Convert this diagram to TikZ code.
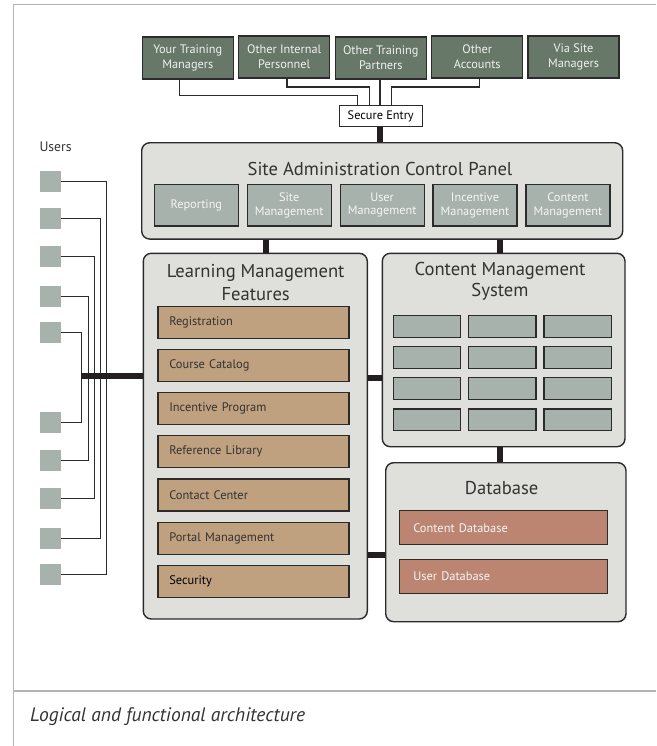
\documentclass[tikz,border=0pt]{standalone}
\usepackage{fontspec}
\setmainfont{PT Sans}
\usetikzlibrary{calc}
\definecolor{bord}{HTML}{2B2B2B}
\definecolor{topg}{HTML}{677868}
\definecolor{panelg}{HTML}{DFDFDB}
\definecolor{subg}{HTML}{A7B2AD}
\definecolor{tanc}{HTML}{BFA07F}
\definecolor{salm}{HTML}{BC8572}
\definecolor{framec}{HTML}{B4B4B4}
\definecolor{textd}{HTML}{333333}
\definecolor{thickc}{HTML}{231F20}
\begin{document}
\begin{tikzpicture}[x=1pt,y=-1pt,
  topbox/.style={draw=bord, line width=1.2pt, fill=topg, text=white!94!black, minimum width=91pt, minimum height=42pt, inner sep=0pt, align=center, font=\fontsize{12.3}{15}\selectfont},
  panelbox/.style={draw=bord, line width=1.4pt, fill=panelg, rounded corners=8pt, inner sep=0pt},
  subbox/.style={draw=bord, line width=1.2pt, fill=subg, text=white!96!black, minimum width=84pt, minimum height=41.7pt, inner sep=0pt, align=center, font=\fontsize{12.3}{13.5}\selectfont},
  itembox/.style={draw=bord, line width=1.2pt, fill=tanc, text=textd, minimum height=32pt, text width=168.4pt, inner xsep=11.3pt, inner ysep=0pt, align=left, font=\fontsize{12.4}{13}\selectfont},
  dbbox/.style={draw=bord, line width=1.2pt, fill=salm, text=white!96!black, minimum height=34pt, text width=180.4pt, inner xsep=14pt, inner ysep=0pt, align=left, font=\fontsize{12.4}{13}\selectfont},
  cellbox/.style={draw=bord, line width=1.2pt, fill=subg, minimum width=67.4pt, minimum height=21.8pt, inner sep=0pt},
  userbox/.style={fill=subg, minimum width=21pt, minimum height=21pt, inner sep=0pt},
  titletext/.style={text=textd, align=center, font=\fontsize{18.6}{23}\selectfont, inner sep=0pt},
  thinline/.style={draw=bord, line width=1.5pt},
  thickline/.style={draw=thickc, line width=6pt},
  frameline/.style={draw=framec, line width=1.5pt}
]
\useasboundingbox (0,0) rectangle (656,746);
% frame
\draw[frameline] (656,4.7) -- (13.3,4.7) -- (13.3,746);
\draw[frameline] (13.3,691) -- (656,691);
\node[anchor=west, inner sep=0pt, text=textd, font=\fontsize{19.5}{22}\selectfont\itshape] (cap) at (30,717) {Logical and functional architecture};

% top boxes
\node[topbox] (b1) at (187.8,58) {Your Training\\Managers};
\node[topbox] (b2) at (284.2,57) {Other Internal\\Personnel};
\node[topbox] (b3) at (380.8,58) {Other Training\\Partners};
\node[topbox] (b4) at (477.2,57) {Other\\Accounts};
\node[topbox] (b5) at (573.5,57) {Via Site\\Managers};
\node[draw=bord, line width=1.2pt, fill=white, text=black, minimum width=83pt, minimum height=21.5pt, inner sep=0pt, font=\fontsize{12.3}{13}\selectfont] (se) at (380.7,116) {Secure Entry};

% panel
\node[panelbox, minimum width=481pt, minimum height=96.3pt] (panel) at (382.2,190.9) {};
\node[titletext] (ptitle) at (380,169) {Site Administration Control Panel};
\node[subbox] (s1) at (196.3,205.2) {Reporting};
\node[subbox] (s2) at (289.2,205.2) {Site\\Management};
\node[subbox] (s3) at (382.1,205.2) {User\\Management};
\node[subbox] (s4) at (475.0,205.2) {Incentive\\Management};
\node[subbox] (s5) at (567.9,205.2) {Content\\Management};

% LMF
\node[panelbox, minimum width=224pt, minimum height=365.7pt] (lmf) at (255.3,436.15) {};
\node[titletext] (ltitle) at (255.7,282.3) {Learning Management\\Features};
\node[itembox] (i1) at (253.5,322.2) {Registration};
\node[itembox] (i2) at (253.5,365.4) {Course Catalog};
\node[itembox] (i3) at (253.5,408.6) {Incentive Program};
\node[itembox] (i4) at (253.5,451.8) {Reference Library};
\node[itembox] (i5) at (253.5,495.0) {Contact Center};
\node[itembox] (i6) at (253.5,538.2) {Portal Management};
\node[itembox, text=black] (i7) at (253.5,581.4) {Security};

% CMS
\node[panelbox, minimum width=242.7pt, minimum height=193.4pt] (cms) at (503.65,350) {};
\node[titletext, font=\fontsize{18.6}{20.5}\selectfont] (ctitle) at (500,281.5) {Content Management\\System};
\foreach \r [count=\ri] in {326.3,357.5,388.7,419.9} {
  \foreach \c [count=\ci] in {427,502.3,577.6} {
    \node[cellbox] (g\ri\ci) at (\c,\r) {};
  }
}

% Database
\node[panelbox, minimum width=240.3pt, minimum height=159pt] (db) at (505.85,542.2) {};
\node[titletext] (dtitle) at (501.7,487.7) {Database};
\node[dbbox] (d1) at (503.5,527.8) {Content Database};
\node[dbbox] (d2) at (503.5,576.3) {User Database};

% users
\node[anchor=west, inner sep=0pt, text=textd, font=\fontsize{13.7}{15}\selectfont] (ulabel) at (39.3,146.7) {Users};
\foreach \y [count=\k] in {181.5,218.5,256.5,296.5,332.5,422.5,460.5,498.5,538.5,574.5} {
  \node[userbox] (u\k) at (50.5,\y) {};
}
\coordinate (bx1) at (106.7,0);
\coordinate (bx2) at (100.7,0);
\coordinate (bx3) at (94.7,0);
\coordinate (bx4) at (88.3,0);
\coordinate (bx5) at (81.7,0);
\draw[thinline] (u1.east) -- (u1.east -| bx1) -- (u10.east -| bx1) -- (u10.east);
\draw[thinline] (u2.east) -- (u2.east -| bx2) -- (u9.east -| bx2) -- (u9.east);
\draw[thinline] (u3.east) -- (u3.east -| bx3) -- (u8.east -| bx3) -- (u8.east);
\draw[thinline] (u4.east) -- (u4.east -| bx4) -- (u7.east -| bx4) -- (u7.east);
\draw[thinline] (u5.east) -- (u5.east -| bx5) -- (u6.east -| bx5) -- (u6.east);
\coordinate (ubar) at (81,376.3);
\draw[thickline] (ubar) -- (ubar -| lmf.west);

% top connectors
\draw[thinline] ([xshift=-8.5pt]b1.south) -- ++(0,16) -| ([xshift=-23.4pt]se.north);
\draw[thinline] ([xshift=2.8pt]b2.south) -- ++(0,8.3) -| ([xshift=-11.4pt]se.north);
\draw[thinline] ([xshift=-0.8pt]b3.south) -- ([xshift=-0.7pt]se.north);
\draw[thinline] ([xshift=2.1pt]b4.south) -- ++(0,8.3) -| ([xshift=11pt]se.north);

% thick connectors
\draw[thickline] ([xshift=-0.7pt]se.south) -- ([xshift=-0.7pt]se.south |- panel.north);
\coordinate (cx1) at (266,0);
\coordinate (cx2) at (500,0);
\draw[thickline] (cx1 |- panel.south) -- (cx1 |- lmf.north);
\draw[thickline] (cx2 |- panel.south) -- (cx2 |- cms.north);
\draw[thickline] (cx2 |- cms.south) -- (cx2 |- db.north);
\coordinate (cy1) at (0,377.7);
\coordinate (cy2) at (0,555);
\draw[thickline] (lmf.east |- cy1) -- (cms.west |- cy1);
\draw[thickline] (lmf.east |- cy2) -- (db.west |- cy2);
\end{tikzpicture}
\end{document}
